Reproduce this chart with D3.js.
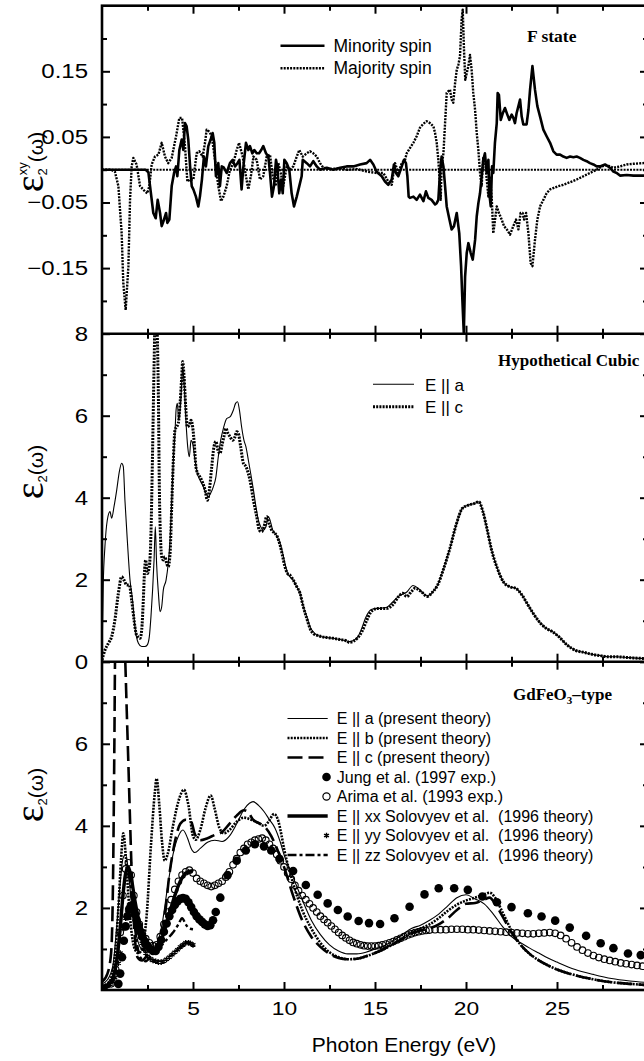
<!DOCTYPE html>
<html><head><meta charset="utf-8">
<script src="https://cdn.jsdelivr.net/npm/d3@7"></script>
<style>
body{margin:0;background:#fff;}
svg{display:block;}
text{white-space:pre;}
</style></head><body>
<svg id="fig" width="644" height="1061"></svg>
<script>
// ---------- Panel 1: off-diagonal eps2^xy, F state ----------
const minoritySpin = [[0,0],[2.4,0],[2.55,-0.004],[2.64,-0.025],[2.82,-0.066],[2.95,-0.074],[3.06,-0.046],[3.19,-0.066],[3.28,-0.086],[3.37,-0.079],[3.52,-0.066],[3.59,-0.081],[3.7,-0.076],[3.83,-0.025],[3.96,-0.005],[4.07,0.005],[4.14,-0.01],[4.25,0.03],[4.38,0.046],[4.47,0.03],[4.56,0.071],[4.65,0.066],[4.74,0.046],[4.84,0.005],[4.93,-0.025],[5.02,-0.03],[5.16,-0.041],[5.29,-0.056],[5.38,-0.041],[5.49,-0.015],[5.6,0.02],[5.71,0.005],[5.84,0.036],[5.97,0.046],[6.08,0.056],[6.17,0.041],[6.26,-0.01],[6.39,0.01],[6.48,-0.025],[6.58,0.005],[6.7,0.003],[6.85,-0.005],[7.03,0.01],[7.18,0.015],[7.31,0.005],[7.44,0.01],[7.55,0.015],[7.67,-0.03],[7.77,0.005],[7.91,0.041],[8.04,0.03],[8.13,0.036],[8.26,0.025],[8.37,0.03],[8.5,0.025],[8.63,0.025],[8.75,0.03],[8.86,0.036],[9.01,0.025],[9.14,0.02],[9.23,-0.005],[9.34,-0.041],[9.45,-0.025],[9.56,0.015],[9.63,0.005],[9.74,-0.036],[9.84,-0.015],[9.93,-0.036],[10.02,0.015],[10.15,0.01],[10.29,0],[10.42,-0.036],[10.55,-0.056],[10.7,-0.041],[10.84,-0.025],[10.97,-0.01],[11.03,0.015],[11.25,0.01],[11.43,0.005],[11.61,0.013],[11.8,0.005],[11.98,0],[12.35,0.003],[12.71,0],[13.08,0.003],[13.44,0.005],[13.81,0.005],[14.18,0.008],[14.54,0.01],[14.73,0.015],[14.91,0.008],[15.09,-0.003],[15.37,-0.01],[15.55,-0.018],[15.73,-0.023],[15.92,-0.015],[16.04,0.008],[16.15,-0.005],[16.28,-0.01],[16.47,0.005],[16.59,0.015],[16.7,0.01],[16.78,-0.01],[16.85,-0.041],[16.92,-0.043],[17.11,-0.041],[17.29,-0.046],[17.47,-0.038],[17.66,-0.048],[17.8,-0.033],[17.93,-0.043],[18.11,-0.046],[18.3,-0.053],[18.39,-0.051],[18.48,-0.046],[18.57,-0.005],[18.66,0.02],[18.76,0.005],[18.85,-0.025],[18.94,-0.056],[19.09,-0.076],[19.21,-0.091],[19.34,-0.086],[19.49,-0.066],[19.63,-0.097],[19.73,-0.147],[19.8,-0.198],[19.88,-0.25],[19.95,-0.163],[20.04,-0.127],[20.13,-0.112],[20.26,-0.127],[20.37,-0.137],[20.5,-0.107],[20.59,-0.071],[20.68,-0.051],[20.77,-0.036],[20.86,-0.01],[20.95,0.015],[21.04,0.025],[21.14,-0.005],[21.23,0.015],[21.28,-0.036],[21.36,-0.056],[21.43,0.005],[21.5,-0.005],[21.59,0.041],[21.69,0.071],[21.74,0.117],[21.81,0.114],[21.91,0.076],[22.02,0.086],[22.14,0.094],[22.27,0.084],[22.38,0.076],[22.51,0.084],[22.6,0.079],[22.69,0.071],[22.78,0.086],[22.88,0.097],[22.97,0.107],[23.06,0.081],[23.15,0.069],[23.33,0.069],[23.43,0.091],[23.52,0.122],[23.65,0.158],[23.79,0.122],[23.92,0.097],[24.07,0.081],[24.25,0.061],[24.43,0.051],[24.62,0.041],[24.8,0.028],[24.98,0.023],[25.17,0.023],[25.35,0.02],[25.53,0.018],[25.72,0.02],[25.9,0.019],[26.08,0.02],[26.26,0.018],[26.45,0.015],[26.63,0.013],[26.81,0.01],[27.0,0.008],[27.18,0.005],[27.36,0.005],[27.64,0.008],[27.91,0.003],[28.1,-0.003],[28.28,-0.005],[28.46,-0.009],[28.83,-0.008],[29.2,-0.009],[29.74,-0.009],[30,-0.009]];

const majoritySpin = [[0,0],[0.5,0],[0.71,-0.003],[0.9,-0.025],[1.08,-0.097],[1.17,-0.173],[1.3,-0.214],[1.45,-0.147],[1.54,-0.046],[1.63,0.005],[1.72,0.018],[1.9,0.008],[2.09,-0.025],[2.36,-0.033],[2.49,-0.036],[2.6,-0.025],[2.73,0.008],[2.91,0.02],[3.1,0.023],[3.28,0.041],[3.46,0.02],[3.64,0.01],[3.83,0.018],[4.07,0.051],[4.25,0.079],[4.4,0.079],[4.56,0.036],[4.69,-0.018],[4.84,-0.015],[5.02,-0.015],[5.2,0.025],[5.35,0.028],[5.53,0.02],[5.66,0.041],[5.75,0.061],[5.9,0.058],[6.03,0.051],[6.21,0.015],[6.39,-0.025],[6.54,-0.048],[6.67,-0.041],[6.85,-0.025],[7.03,0],[7.22,0.01],[7.4,0.03],[7.53,0.041],[7.73,0.02],[7.91,-0.01],[8.04,-0.03],[8.19,-0.008],[8.32,0.02],[8.5,0.015],[8.68,-0.015],[8.86,-0.01],[9.05,0.02],[9.23,0.023],[9.38,-0.01],[9.54,-0.025],[9.69,0.01],[9.82,-0.005],[9.96,-0.025],[10.15,0.005],[10.33,0],[10.51,0.005],[10.7,0.02],[10.84,0.03],[11.03,0.02],[11.25,0.025],[11.43,0.028],[11.61,0.025],[11.8,0.02],[11.98,0.01],[12.16,0.003],[12.5,0.001],[13.0,0.002],[13.5,0],[14.0,0.001],[14.6,-0.003],[15.09,-0.005],[15.46,-0.005],[15.73,-0.018],[15.92,-0.023],[16.1,0.01],[16.28,-0.005],[16.47,0.01],[16.65,0.015],[16.74,0.025],[16.92,0.033],[17.11,0.041],[17.29,0.051],[17.47,0.064],[17.66,0.07],[17.84,0.074],[18.02,0.071],[18.21,0.066],[18.3,0.056],[18.39,0.041],[18.48,0.015],[18.57,-0.025],[18.61,-0.046],[18.66,0.005],[18.76,0.025],[18.94,0.117],[19.12,0.122],[19.21,0.107],[19.3,0.102],[19.4,0.132],[19.49,0.152],[19.58,0.16],[19.67,0.173],[19.76,0.229],[19.82,0.244],[19.89,0.183],[19.96,0.137],[20.04,0.147],[20.13,0.158],[20.22,0.175],[20.31,0.152],[20.4,0.117],[20.5,0.091],[20.59,0.056],[20.68,0.03],[20.77,-0.005],[20.86,-0.025],[20.95,0.02],[21.04,0.015],[21.14,-0.015],[21.23,-0.041],[21.32,-0.01],[21.41,-0.041],[21.5,-0.097],[21.69,-0.056],[21.81,-0.066],[21.96,-0.076],[22.09,-0.086],[22.24,-0.091],[22.42,-0.099],[22.6,-0.086],[22.75,-0.076],[22.88,-0.091],[23.0,-0.066],[23.11,-0.066],[23.19,-0.076],[23.3,-0.066],[23.43,-0.097],[23.55,-0.142],[23.65,-0.147],[23.79,-0.107],[23.92,-0.076],[24.07,-0.056],[24.25,-0.046],[24.43,-0.036],[24.62,-0.03],[24.8,-0.028],[25.07,-0.025],[25.35,-0.023],[25.72,-0.019],[26.08,-0.015],[26.45,-0.01],[26.81,-0.005],[27.18,0],[27.46,0.005],[27.73,0.007],[28.1,0.003],[28.46,0.005],[28.83,0.008],[29.2,0.009],[29.74,0.01],[30,0.011]];

// ---------- Panel 2: hypothetical cubic ----------
const cubicEa = [[0,0.05],[0.07,1.91],[0.16,2.8],[0.29,3.45],[0.44,3.66],[0.53,3.5],[0.66,3.78],[0.81,4.19],[0.95,4.63],[1.08,4.84],[1.17,4.76],[1.26,3.94],[1.39,2.97],[1.54,1.99],[1.68,1.5],[1.81,0.85],[2.0,0.45],[2.18,0.37],[2.36,0.37],[2.49,0.41],[2.6,0.61],[2.69,1.1],[2.78,1.75],[2.86,2.48],[2.93,3.29],[3.0,2.39],[3.1,1.67],[3.19,1.22],[3.28,1.34],[3.37,1.75],[3.52,1.99],[3.64,2.4],[3.74,2.97],[3.83,3.94],[3.92,4.92],[4.01,5.57],[4.07,6.14],[4.14,6.3],[4.21,5.89],[4.29,6.14],[4.38,6.79],[4.43,7.2],[4.51,6.79],[4.62,5.81],[4.71,5.24],[4.8,5.0],[4.89,5.4],[4.98,5.32],[5.11,4.92],[5.24,4.59],[5.38,4.43],[5.57,4.27],[5.71,4.11],[5.84,4.02],[5.97,4.11],[6.12,4.27],[6.26,4.51],[6.39,5.0],[6.52,5.4],[6.67,5.69],[6.85,5.93],[7.03,5.97],[7.22,6.14],[7.34,6.3],[7.45,6.34],[7.55,6.14],[7.67,5.73],[7.8,5.4],[7.91,5.24],[8.04,4.92],[8.17,4.59],[8.32,4.19],[8.46,3.78],[8.59,3.46],[8.72,3.29],[8.86,3.21],[9.01,3.29],[9.14,3.54],[9.23,3.46],[9.38,3.21],[9.51,3.13],[9.63,3.05],[9.78,2.89],[9.93,2.64],[10.05,2.4],[10.2,2.15],[10.33,2.07],[10.51,1.99],[10.7,1.83],[10.88,1.67],[11.06,1.34],[11.25,1.1],[11.43,0.85],[11.61,0.73],[11.79,0.65],[12.07,0.61],[12.34,0.59],[12.71,0.57],[13.08,0.54],[13.44,0.51],[13.59,0.49],[14.04,0.6],[14.3,0.85],[14.49,1.08],[14.83,1.28],[15.17,1.3],[15.62,1.32],[15.96,1.45],[16.3,1.6],[16.75,1.7],[17.09,1.86],[17.4,1.78],[17.65,1.67],[17.88,1.6],[18.1,1.67],[18.44,1.87],[18.78,2.28],[19.12,2.77],[19.46,3.34],[19.8,3.74],[20.14,3.82],[20.47,3.86],[20.7,3.9],[20.93,3.66],[21.15,3.25],[21.38,2.77],[21.72,2.28],[22.05,1.95],[22.39,1.83],[22.73,1.79],[23.07,1.63],[23.41,1.38],[23.75,1.14],[24.09,0.94],[24.42,0.81],[24.76,0.73],[25.1,0.61],[25.55,0.41],[26.0,0.28],[26.46,0.23],[26.91,0.18],[27.36,0.15],[27.81,0.12],[28.26,0.12],[28.94,0.1],[29.8,0.08],[30,0.08]];

const cubicEc = [[0,0.04],[0.16,0.28],[0.35,0.45],[0.53,0.61],[0.71,1.02],[0.9,1.67],[1.08,2.07],[1.21,1.99],[1.36,1.87],[1.5,1.87],[1.63,1.5],[1.76,1.02],[1.87,0.69],[1.96,0.61],[2.09,0.57],[2.18,0.77],[2.27,1.5],[2.33,2.15],[2.4,2.48],[2.49,2.15],[2.6,2.32],[2.69,3.13],[2.78,5.16],[2.86,7.19],[2.93,8.6],[3.0,8.4],[3.1,6.37],[3.15,4.27],[3.22,2.97],[3.28,2.56],[3.37,2.48],[3.46,2.56],[3.55,2.4],[3.64,2.32],[3.74,2.64],[3.83,3.78],[3.92,4.92],[4.01,5.65],[4.1,5.73],[4.19,5.81],[4.29,6.3],[4.38,6.95],[4.43,7.32],[4.51,6.95],[4.6,6.22],[4.69,5.73],[4.8,5.77],[4.89,5.89],[4.98,5.73],[5.07,5.32],[5.16,4.76],[5.26,4.59],[5.38,4.51],[5.51,4.39],[5.66,4.19],[5.79,3.94],[5.9,4.19],[6.03,4.76],[6.15,5.24],[6.26,5.37],[6.37,5.16],[6.48,5.08],[6.61,5.32],[6.7,5.49],[6.81,5.69],[6.92,5.57],[7.03,5.49],[7.18,5.4],[7.31,5.49],[7.4,5.61],[7.49,5.57],[7.62,5.24],[7.77,4.84],[7.91,4.76],[8.04,4.59],[8.13,4.43],[8.32,3.94],[8.5,3.54],[8.64,3.21],[8.77,3.17],[8.9,3.29],[9.05,3.54],[9.18,3.37],[9.32,3.21],[9.51,3.13],[9.63,3.05],[9.78,2.85],[9.93,2.56],[10.05,2.32],[10.2,2.15],[10.33,2.11],[10.51,1.99],[10.7,1.83],[10.88,1.67],[11.06,1.34],[11.25,1.06],[11.43,0.81],[11.61,0.69],[11.79,0.65],[12.07,0.61],[12.34,0.59],[12.71,0.57],[13.08,0.54],[13.44,0.51],[13.59,0.47],[14.04,0.58],[14.3,0.75],[14.49,0.95],[14.83,1.24],[15.17,1.3],[15.62,1.3],[15.96,1.38],[16.3,1.59],[16.52,1.67],[16.75,1.59],[17.0,1.71],[17.2,1.79],[17.54,1.71],[17.88,1.59],[18.1,1.67],[18.44,1.87],[18.78,2.28],[19.12,2.77],[19.46,3.34],[19.8,3.74],[20.14,3.82],[20.47,3.86],[20.7,3.9],[20.93,3.66],[21.15,3.25],[21.38,2.77],[21.72,2.28],[22.05,1.95],[22.39,1.83],[22.73,1.79],[23.07,1.63],[23.41,1.38],[23.75,1.14],[24.09,0.94],[24.42,0.81],[24.76,0.73],[25.1,0.61],[25.55,0.41],[26.0,0.28],[26.46,0.23],[26.91,0.18],[27.36,0.15],[27.81,0.12],[28.26,0.12],[28.94,0.1],[29.8,0.08],[30,0.08]];

// ---------- Panel 3: GdFeO3-type, theory vs experiment ----------
const gdEa = [[0,0.15],[0.3,0.25],[0.6,0.6],[0.8,1.5],[1.0,2.6],[1.15,3.2],[1.3,3.3],[1.45,2.9],[1.6,2.2],[1.8,1.5],[2.0,1.15],[2.3,0.95],[2.7,0.95],[3.0,1.1],[3.3,1.6],[3.6,2.5],[3.9,3.3],[4.2,3.75],[4.45,3.9],[4.7,3.7],[4.9,3.45],[5.1,3.35],[5.4,3.45],[5.8,3.6],[6.2,3.65],[6.6,3.62],[7.0,3.75],[7.4,4.05],[7.8,4.4],[8.1,4.55],[8.3,4.59],[8.6,4.5],[8.9,4.35],[9.2,4.15],[9.5,3.95],[9.8,3.6],[10.0,3.3],[10.5,2.75],[11,2.2],[11.5,1.7],[12,1.35],[12.5,1.1],[13,0.95],[13.5,0.88],[14,0.88],[14.5,0.92],[15,1.0],[15.5,1.08],[16,1.2],[16.5,1.35],[17,1.5],[17.5,1.58],[18,1.7],[18.5,1.85],[19,2.05],[19.5,2.25],[20,2.32],[20.5,2.22],[21,2.1],[21.5,1.85],[22,1.55],[22.5,1.3],[23,1.15],[23.5,1.02],[24,0.9],[24.5,0.78],[25,0.68],[26,0.5],[27,0.38],[28,0.28],[29,0.22],[30,0.18]];
const gdEb = [[0,0.1],[0.4,0.2],[0.7,0.8],[0.9,2.0],[1.05,3.2],[1.17,3.82],[1.3,3.3],[1.45,2.3],[1.6,1.5],[1.8,1.0],[2.0,0.9],[2.2,1.0],[2.45,1.8],[2.7,3.6],[2.9,4.8],[3.0,5.15],[3.15,4.5],[3.3,3.6],[3.45,3.15],[3.6,3.3],[3.9,4.0],[4.2,4.6],[4.5,4.88],[4.75,4.5],[5.0,3.75],[5.15,3.66],[5.4,3.9],[5.7,4.45],[5.97,4.74],[6.2,4.4],[6.45,3.95],[6.7,3.82],[7.0,3.9],[7.4,4.1],[7.8,4.2],[8.2,4.15],[8.6,4.07],[8.9,4.0],[9.15,4.1],[9.45,4.29],[9.7,4.1],[9.85,3.8],[10.0,3.45],[10.5,2.6],[11,1.95],[11.5,1.5],[12,1.15],[12.5,0.92],[13,0.8],[13.5,0.75],[14,0.76],[14.5,0.82],[15,0.9],[15.5,1.0],[16,1.12],[16.5,1.25],[17,1.4],[17.5,1.5],[18,1.6],[18.5,1.75],[19,1.93],[19.5,2.08],[20,2.18],[20.5,2.25],[21,2.33],[21.3,2.37],[21.6,2.25],[22,1.9],[22.5,1.45],[23,1.1],[23.5,0.88],[24,0.72],[24.5,0.6],[25,0.5],[26,0.36],[27,0.26],[28,0.19],[29,0.15],[30,0.12]];
const gdEc = [[0,0.2],[0.3,0.4],[0.5,0.9],[0.6,2.5],[0.68,6.0],[0.72,8.2],[0.85,9.8],[1.0,10.2],[1.15,9.5],[1.28,8.0],[1.36,6.8],[1.45,5.5],[1.54,4.15],[1.62,3.0],[1.72,1.9],[1.82,1.2],[1.95,0.8],[2.2,0.72],[2.5,0.85],[2.8,1.0],[3.1,1.05],[3.4,1.6],[3.7,2.8],[4.0,3.6],[4.3,4.05],[4.6,4.15],[4.9,4.1],[5.1,3.8],[5.4,3.65],[5.8,3.7],[6.2,3.78],[6.6,3.85],[7.0,4.05],[7.4,4.25],[7.8,4.38],[8.0,4.35],[8.3,4.15],[8.7,4.05],[9.0,3.95],[9.3,3.75],[9.7,3.35],[10.0,3.0],[10.5,2.3],[11,1.7],[11.5,1.3],[12,1.05],[12.5,0.88],[13,0.78],[13.5,0.75],[14,0.76],[14.5,0.82],[15,0.9],[15.5,1.0],[16,1.12],[16.5,1.25],[17,1.38],[17.5,1.45],[18,1.5],[18.5,1.6],[19,1.75],[19.5,1.95],[20,2.1],[20.5,2.12],[21,2.2],[21.3,2.25],[21.6,2.1],[22,1.8],[22.5,1.4],[23,1.1],[23.5,0.88],[24,0.72],[24.5,0.6],[25,0.5],[26,0.36],[27,0.26],[28,0.19],[29,0.15],[30,0.12]];
const jung1997 = [[0.9,0.15],[1.0,0.4],[1.1,0.8],[1.2,1.2],[1.3,1.55],[1.4,1.8],[1.5,1.98],[1.6,2.05],[1.7,2.0],[1.8,1.85],[1.9,1.7],[2.0,1.55],[2.1,1.42],[2.2,1.3],[2.35,1.18],[2.5,1.08],[2.65,1.0],[2.8,0.95],[2.95,0.95],[3.1,1.05],[3.25,1.22],[3.4,1.42],[3.55,1.62],[3.7,1.8],[3.85,1.95],[4.0,2.07],[4.15,2.16],[4.3,2.22],[4.45,2.24],[4.6,2.22],[4.75,2.14],[4.9,2.02],[5.05,1.9],[5.2,1.8],[5.35,1.72],[5.5,1.66],[5.65,1.6],[5.8,1.56],[5.95,1.58],[6.1,1.7],[6.25,1.9],[6.5,2.25],[6.9,2.8],[7.4,3.15],[7.9,3.4],[8.4,3.55],[8.9,3.5],[9.3,3.4],[9.75,3.2],[10.5,2.9],[11.2,2.56],[11.85,2.32],[12.4,2.11],[12.96,1.95],[13.5,1.79],[14.1,1.68],[14.67,1.63],[15.28,1.61],[16.07,1.75],[16.9,2.03],[17.72,2.33],[18.5,2.48],[19.35,2.48],[20.1,2.44],[20.9,2.28],[21.7,2.14],[22.5,2.02],[23.4,1.87],[24.15,1.79],[24.9,1.69],[25.7,1.52],[26.6,1.32],[27.4,1.14],[28.1,1.02],[28.9,0.89],[29.6,0.85]];
const arima1993 = [[0.5,0.15],[0.75,0.5],[1.0,1.4],[1.15,2.3],[1.3,2.95],[1.45,3.1],[1.6,2.8],[1.75,2.3],[1.9,1.9],[2.05,1.6],[2.2,1.4],[2.4,1.25],[2.6,1.15],[2.8,1.08],[3.0,1.1],[3.2,1.3],[3.4,1.6],[3.6,1.9],[3.8,2.2],[4.0,2.45],[4.2,2.65],[4.4,2.8],[4.6,2.88],[4.8,2.92],[5.0,2.85],[5.2,2.72],[5.4,2.65],[5.6,2.6],[5.8,2.55],[6.0,2.52],[6.2,2.55],[6.4,2.6],[6.6,2.65],[6.8,2.75],[7.0,2.88],[7.2,3.05],[7.4,3.2],[7.6,3.35],[7.8,3.45],[8.0,3.55],[8.2,3.6],[8.4,3.65],[8.6,3.68],[8.8,3.7],[9.0,3.65],[9.2,3.55],[9.4,3.45],[9.6,3.3],[9.8,3.15],[10.0,3.0],[10.2,2.85],[10.4,2.7],[10.6,2.55],[10.8,2.42],[11.0,2.3],[11.2,2.2],[11.4,2.1],[11.6,2.0],[11.8,1.9],[12.0,1.8],[12.2,1.72],[12.4,1.64],[12.6,1.56],[12.8,1.48],[13.0,1.4],[13.2,1.33],[13.4,1.27],[13.6,1.21],[13.8,1.16],[14.0,1.13],[14.2,1.1],[14.4,1.08],[14.6,1.07],[14.8,1.07],[15.0,1.07],[15.2,1.08],[15.4,1.1],[15.6,1.12],[15.8,1.15],[16.0,1.18],[16.2,1.22],[16.4,1.26],[16.6,1.3],[16.8,1.34],[17.0,1.37],[17.2,1.4],[17.4,1.42],[17.6,1.44],[17.8,1.45],[18.0,1.46],[18.3,1.47],[18.6,1.47],[18.9,1.47],[19.2,1.48],[19.5,1.48],[19.8,1.48],[20.1,1.47],[20.4,1.47],[20.7,1.46],[21.0,1.45],[21.3,1.44],[21.6,1.43],[21.9,1.42],[22.2,1.41],[22.5,1.4],[22.8,1.39],[23.1,1.38],[23.4,1.37],[23.7,1.37],[24.0,1.38],[24.3,1.39],[24.6,1.4],[24.9,1.38],[25.2,1.33],[25.5,1.25],[25.8,1.15],[26.1,1.05],[26.4,0.97],[26.7,0.9],[27.0,0.84],[27.3,0.79],[27.6,0.75],[27.9,0.72],[28.2,0.69],[28.5,0.66],[28.8,0.64],[29.1,0.62],[29.4,0.6],[29.7,0.58],[30.0,0.57]];
const solovyevXX = [[0,0.05],[0.3,0.1],[0.6,0.3],[0.8,0.7],[1.0,1.5],[1.15,2.3],[1.3,2.85],[1.45,3.0],[1.6,2.75],[1.8,2.2],[2.0,1.75],[2.3,1.35],[2.6,1.1],[2.9,1.0],[3.1,1.05],[3.4,1.4],[3.7,1.85],[4.0,2.3],[4.3,2.65],[4.6,2.85],[4.9,2.9],[5.0,2.88]];
const solovyevYY = [[0,0.05],[0.15,0.07],[0.3,0.1],[0.45,0.14],[0.6,0.2],[0.7,0.3],[0.8,0.45],[0.9,0.65],[1.0,0.9],[1.1,1.2],[1.2,1.5],[1.3,1.75],[1.4,1.95],[1.5,2.07],[1.6,2.1],[1.7,2.0],[1.8,1.85],[1.9,1.65],[2.0,1.47],[2.1,1.3],[2.2,1.14],[2.3,1.0],[2.4,0.9],[2.5,0.82],[2.65,0.76],[2.8,0.72],[2.95,0.7],[3.1,0.68],[3.25,0.68],[3.4,0.7],[3.55,0.75],[3.7,0.8],[3.85,0.86],[4.0,0.92],[4.15,0.98],[4.3,1.05],[4.45,1.1],[4.6,1.15],[4.75,1.15],[4.85,1.14],[5.0,1.1]];
const solovyevZZ = [[0,0.1],[0.4,0.15],[0.7,0.4],[0.9,1.0],[1.1,2.0],[1.25,2.7],[1.4,2.9],[1.55,2.6],[1.7,2.0],[1.9,1.2],[2.1,0.8],[2.4,0.7],[2.7,0.85],[3.0,1.0],[3.3,1.1],[3.6,1.25],[3.9,1.4],[4.2,1.6],[4.4,1.75],[4.6,1.6],[4.8,1.5],[5.0,1.48]];

// ---------- tick values and text ----------
const xMajorTicks = [5,10,15,20,25];
const xMinorTicks = [2.5,7.5,12.5,17.5,22.5,27.5];
const topMajorTicks = [-0.15,-0.05,0.05,0.15];
const topMinorTicks = [-0.2,-0.1,0,0.1,0.2];
const midMajorTicks = [0,2,4,6,8];
const botMajorTicks = [2,4,6,8];
const oddTicks = [1,3,5,7];
const topLegend = ["Minority spin","Majority spin"];
const midLegend = ["E || a","E || c"];
const botLegend = ["E || a (present theory)","E || b (present theory)","E || c (present theory)","Jung et al. (1997 exp.)","Arima et al. (1993 exp.)","E || xx Solovyev et al.  (1996 theory)","E || yy Solovyev et al.  (1996 theory)","E || zz Solovyev et al.  (1996 theory)"];

// ---------- layout ----------
const svg = d3.select("#fig");
const X0 = 102, X1 = 648;
const panels = [{top:5.7,bot:333.7},{top:333.7,bot:661.7},{top:661.7,bot:990}];
const x = d3.scaleLinear().domain([0,30]).range([X0,X1]);
const yTop = d3.scaleLinear().domain([-0.25,0.25]).range([panels[0].bot,panels[0].top]);
const yMid = d3.scaleLinear().domain([0,8]).range([panels[1].bot,panels[1].top]);
const yBot = d3.scaleLinear().domain([0,8]).range([panels[2].bot,panels[2].top]);

const SANS = "'Liberation Sans', Arial, Helvetica, sans-serif";
const SERIF = "'Liberation Serif', 'Times New Roman', serif";

const defs = svg.append("defs");
panels.forEach((p,i)=>{
  defs.append("clipPath").attr("id","clip"+i).append("rect")
    .attr("x",X0).attr("y",p.top).attr("width",X1-X0).attr("height",p.bot-p.top);
});

const jagged = y => d3.line().x(d=>x(d[0])).y(d=>y(d[1])).curve(d3.curveLinear);
const smooth = y => d3.line().x(d=>x(d[0])).y(d=>y(d[1])).curve(d3.curveMonotoneX);

const STY = {
  solid:{w:2.6,dash:null},
  dotted:{w:2.4,dash:"2,1.2"},
  thin:{w:1.1,dash:null},
  thickDot:{w:3,dash:"2,1.2"},
  longDash:{w:2.6,dash:"15,6"},
  thick:{w:3.4,dash:null},
  dashDot:{w:2.4,dash:"9,3,3,3"}
};
function drawLine(g, data, gen, sty){
  g.append("path").datum(data).attr("d",gen).attr("fill","none")
    .attr("stroke","#000").attr("stroke-width",sty.w)
    .attr("stroke-dasharray",sty.dash).attr("stroke-linejoin","round");
}

// ----- panel 1 -----
const g0 = svg.append("g").attr("clip-path","url(#clip0)");
g0.append("line").attr("x1",x(0)).attr("x2",x(30)).attr("y1",yTop(0)).attr("y2",yTop(0))
  .attr("stroke","#000").attr("stroke-width",2).attr("stroke-dasharray","2,1.2");
drawLine(g0, majoritySpin, jagged(yTop), STY.dotted);
drawLine(g0, minoritySpin, jagged(yTop), STY.solid);

// ----- panel 2 -----
const g1 = svg.append("g").attr("clip-path","url(#clip1)");
drawLine(g1, cubicEa, smooth(yMid), STY.thin);
drawLine(g1, cubicEc, smooth(yMid), STY.thickDot);

// ----- panel 3 -----
const g2 = svg.append("g").attr("clip-path","url(#clip2)");
g2.append("g").selectAll("circle").data(arima1993).join("circle")
  .attr("cx",d=>x(d[0])).attr("cy",d=>yBot(d[1])).attr("r",3.3)
  .attr("fill","none").attr("stroke","#000").attr("stroke-width",1.1);
drawLine(g2, gdEa, smooth(yBot), STY.thin);
drawLine(g2, gdEb, smooth(yBot), {w:2.6,dash:"2,1.2"});
drawLine(g2, gdEc, smooth(yBot), STY.longDash);
drawLine(g2, solovyevXX, smooth(yBot), STY.thick);
drawLine(g2, solovyevZZ, smooth(yBot), STY.dashDot);
const star = d3.symbol().type(d3.symbolAsterisk).size(22);
g2.append("g").selectAll("path").data(solovyevYY).join("path")
  .attr("transform",d=>`translate(${x(d[0])},${yBot(d[1])})`).attr("d",star)
  .attr("fill","none").attr("stroke","#000").attr("stroke-width",1.4);
g2.append("g").selectAll("circle").data(jung1997).join("circle")
  .attr("cx",d=>x(d[0])).attr("cy",d=>yBot(d[1])).attr("r",4.3).attr("fill","#000");

// ---------- frame and ticks ----------
const axG = svg.append("g").attr("class","axes");
function styleAxis(sel){
  sel.select(".domain").remove();
  sel.selectAll(".tick line").attr("stroke","#000").attr("stroke-width",2);
}
function xTicks(y, dir){
  // dir = +1 ticks point down, -1 ticks point up
  [[xMajorTicks,8],[xMinorTicks,5]].forEach(([vals,len])=>{
    const ax = (dir>0 ? d3.axisBottom(x) : d3.axisTop(x)).tickValues(vals).tickSize(len).tickFormat("");
    axG.append("g").attr("transform",`translate(0,${y})`).call(ax).call(styleAxis);
  });
}
panels.forEach(p=>{ xTicks(p.top, 1); xTicks(p.bot, -1); });

function yTicks(scale, major, minor){
  [[major,8],[minor,5]].forEach(([vals,len])=>{
    axG.append("g").attr("transform",`translate(${X0},0)`)
      .call(d3.axisRight(scale).tickValues(vals).tickSize(len).tickFormat("")).call(styleAxis);
    axG.append("g").attr("transform",`translate(${X1},0)`)
      .call(d3.axisLeft(scale).tickValues(vals).tickSize(len).tickFormat("")).call(styleAxis);
  });
}
yTicks(yTop, topMajorTicks, topMinorTicks);
yTicks(yMid, midMajorTicks, oddTicks);
yTicks(yBot, botMajorTicks, oddTicks);

// frame lines
axG.append("rect").attr("x",X0).attr("y",panels[0].top).attr("width",X1-X0)
  .attr("height",panels[2].bot-panels[0].top).attr("fill","none").attr("stroke","#000").attr("stroke-width",2.6);
[panels[0].bot,panels[1].bot].forEach(y=>axG.append("line").attr("x1",X0).attr("x2",X1)
  .attr("y1",y).attr("y2",y).attr("stroke","#000").attr("stroke-width",2.6));

// tick labels
const fmtTop = d => (d<0?"\u2212":"") + Math.abs(d).toFixed(2);
function yLabels(scale, vals, fmt){
  const a = d3.axisLeft(scale).tickValues(vals).tickSize(0).tickPadding(14).tickFormat(fmt);
  const s = axG.append("g").attr("transform",`translate(${X0},0)`).call(a);
  s.select(".domain").remove();
  s.selectAll("text").attr("font-family",SANS).attr("font-size",20).attr("fill","#000");
  return s;
}
const labelGroups = [
  yLabels(yTop, topMajorTicks, fmtTop),
  yLabels(yMid, midMajorTicks, d3.format("d")),
  yLabels(yBot, [2,4,6], d3.format("d"))
];
const xl = axG.append("g").attr("transform",`translate(0,${panels[2].bot})`)
  .call(d3.axisBottom(x).tickValues(xMajorTicks).tickSize(0).tickPadding(12).tickFormat(d3.format("d")));
xl.select(".domain").remove();
xl.selectAll("text").attr("font-family",SANS).attr("font-size",19).attr("fill","#000");
labelGroups.push(xl);
// widen the numeric labels slightly
labelGroups.forEach(s=>s.selectAll("text").each(function(){
  const w = this.getComputedTextLength();
  d3.select(this).attr("textLength", w*1.2).attr("lengthAdjust","spacingAndGlyphs");
}));

// axis title
svg.append("text").attr("x",404).attr("y",1052).attr("text-anchor","middle")
  .attr("font-family",SANS).attr("font-size",21).text("Photon Energy (eV)");

// y titles
function yTitle(cy, withXY){
  const t = svg.append("text").attr("transform",`translate(43,${cy}) rotate(-90)`)
    .attr("text-anchor","middle").attr("font-family",SANS).attr("font-size",21);
  t.append("tspan").attr("font-family",SERIF).attr("font-size",40).text("\u03B5");
  t.append("tspan").attr("font-size",13).attr("dy",4).text("2");
  if(withXY) t.append("tspan").attr("font-size",13).attr("dx",-7).attr("dy",-20).text("xy");
  t.append("tspan").attr("dy",withXY?16:-4).text("(\u03C9)");
}
yTitle(162, true);
yTitle(472, false);
yTitle(795, false);

// panel captions
svg.append("text").attr("x",527).attr("y",42).attr("font-family",SERIF).attr("font-weight","bold")
  .attr("font-size",17.5).text("F state");
svg.append("text").attr("x",498).attr("y",366).attr("font-family",SERIF).attr("font-weight","bold")
  .attr("font-size",17).text("Hypothetical Cubic");
const cap3 = svg.append("text").attr("x",513).attr("y",700).attr("font-family",SERIF).attr("font-weight","bold").attr("font-size",17);
cap3.append("tspan").text("GdFeO");
cap3.append("tspan").attr("font-size",11).attr("dy",4).text("3");
cap3.append("tspan").attr("dy",-4).text("\u2013type");

// ---------- legends ----------
function legendLine(x1,x2,y,sty){
  svg.append("line").attr("x1",x1).attr("x2",x2).attr("y1",y).attr("y2",y)
    .attr("stroke","#000").attr("stroke-width",sty.w).attr("stroke-dasharray",sty.dash);
}
function legendText(x0,y,txt,size){
  svg.append("text").attr("x",x0).attr("y",y).attr("font-family",SANS).attr("font-size",size).text(txt);
}
// panel 1
legendLine(280.5,324.5,45.7,STY.solid); legendText(333.5,51.5,topLegend[0],17.5);
legendLine(280.5,324.5,68.3,STY.dotted); legendText(333.5,73.5,topLegend[1],17.5);
// panel 2
legendLine(373,414,384.3,STY.thin); legendText(425,390.5,midLegend[0],17);
legendLine(373,414,406.7,STY.thickDot); legendText(425,412.5,midLegend[1],17);
// panel 3
const botStyles = [STY.thin,{w:2.6,dash:"2,1.2"},STY.longDash,"jung","arima",STY.thick,"star",STY.dashDot];
botLegend.forEach((txt,i)=>{
  const cy = 718.5 + 19.5*i;
  const s = botStyles[i];
  if(s==="jung") svg.append("circle").attr("cx",326.5).attr("cy",cy).attr("r",4.3).attr("fill","#000");
  else if(s==="arima") svg.append("circle").attr("cx",326.5).attr("cy",cy).attr("r",3.6).attr("fill","none").attr("stroke","#000").attr("stroke-width",1.2);
  else if(s==="star") svg.append("path").attr("transform",`translate(326.5,${cy})`).attr("d",star).attr("fill","none").attr("stroke","#000").attr("stroke-width",1.4);
  else legendLine(287.5,327.7,cy,s);
  legendText(336.8,cy+5.7,txt,16);
});
</script></body></html>
